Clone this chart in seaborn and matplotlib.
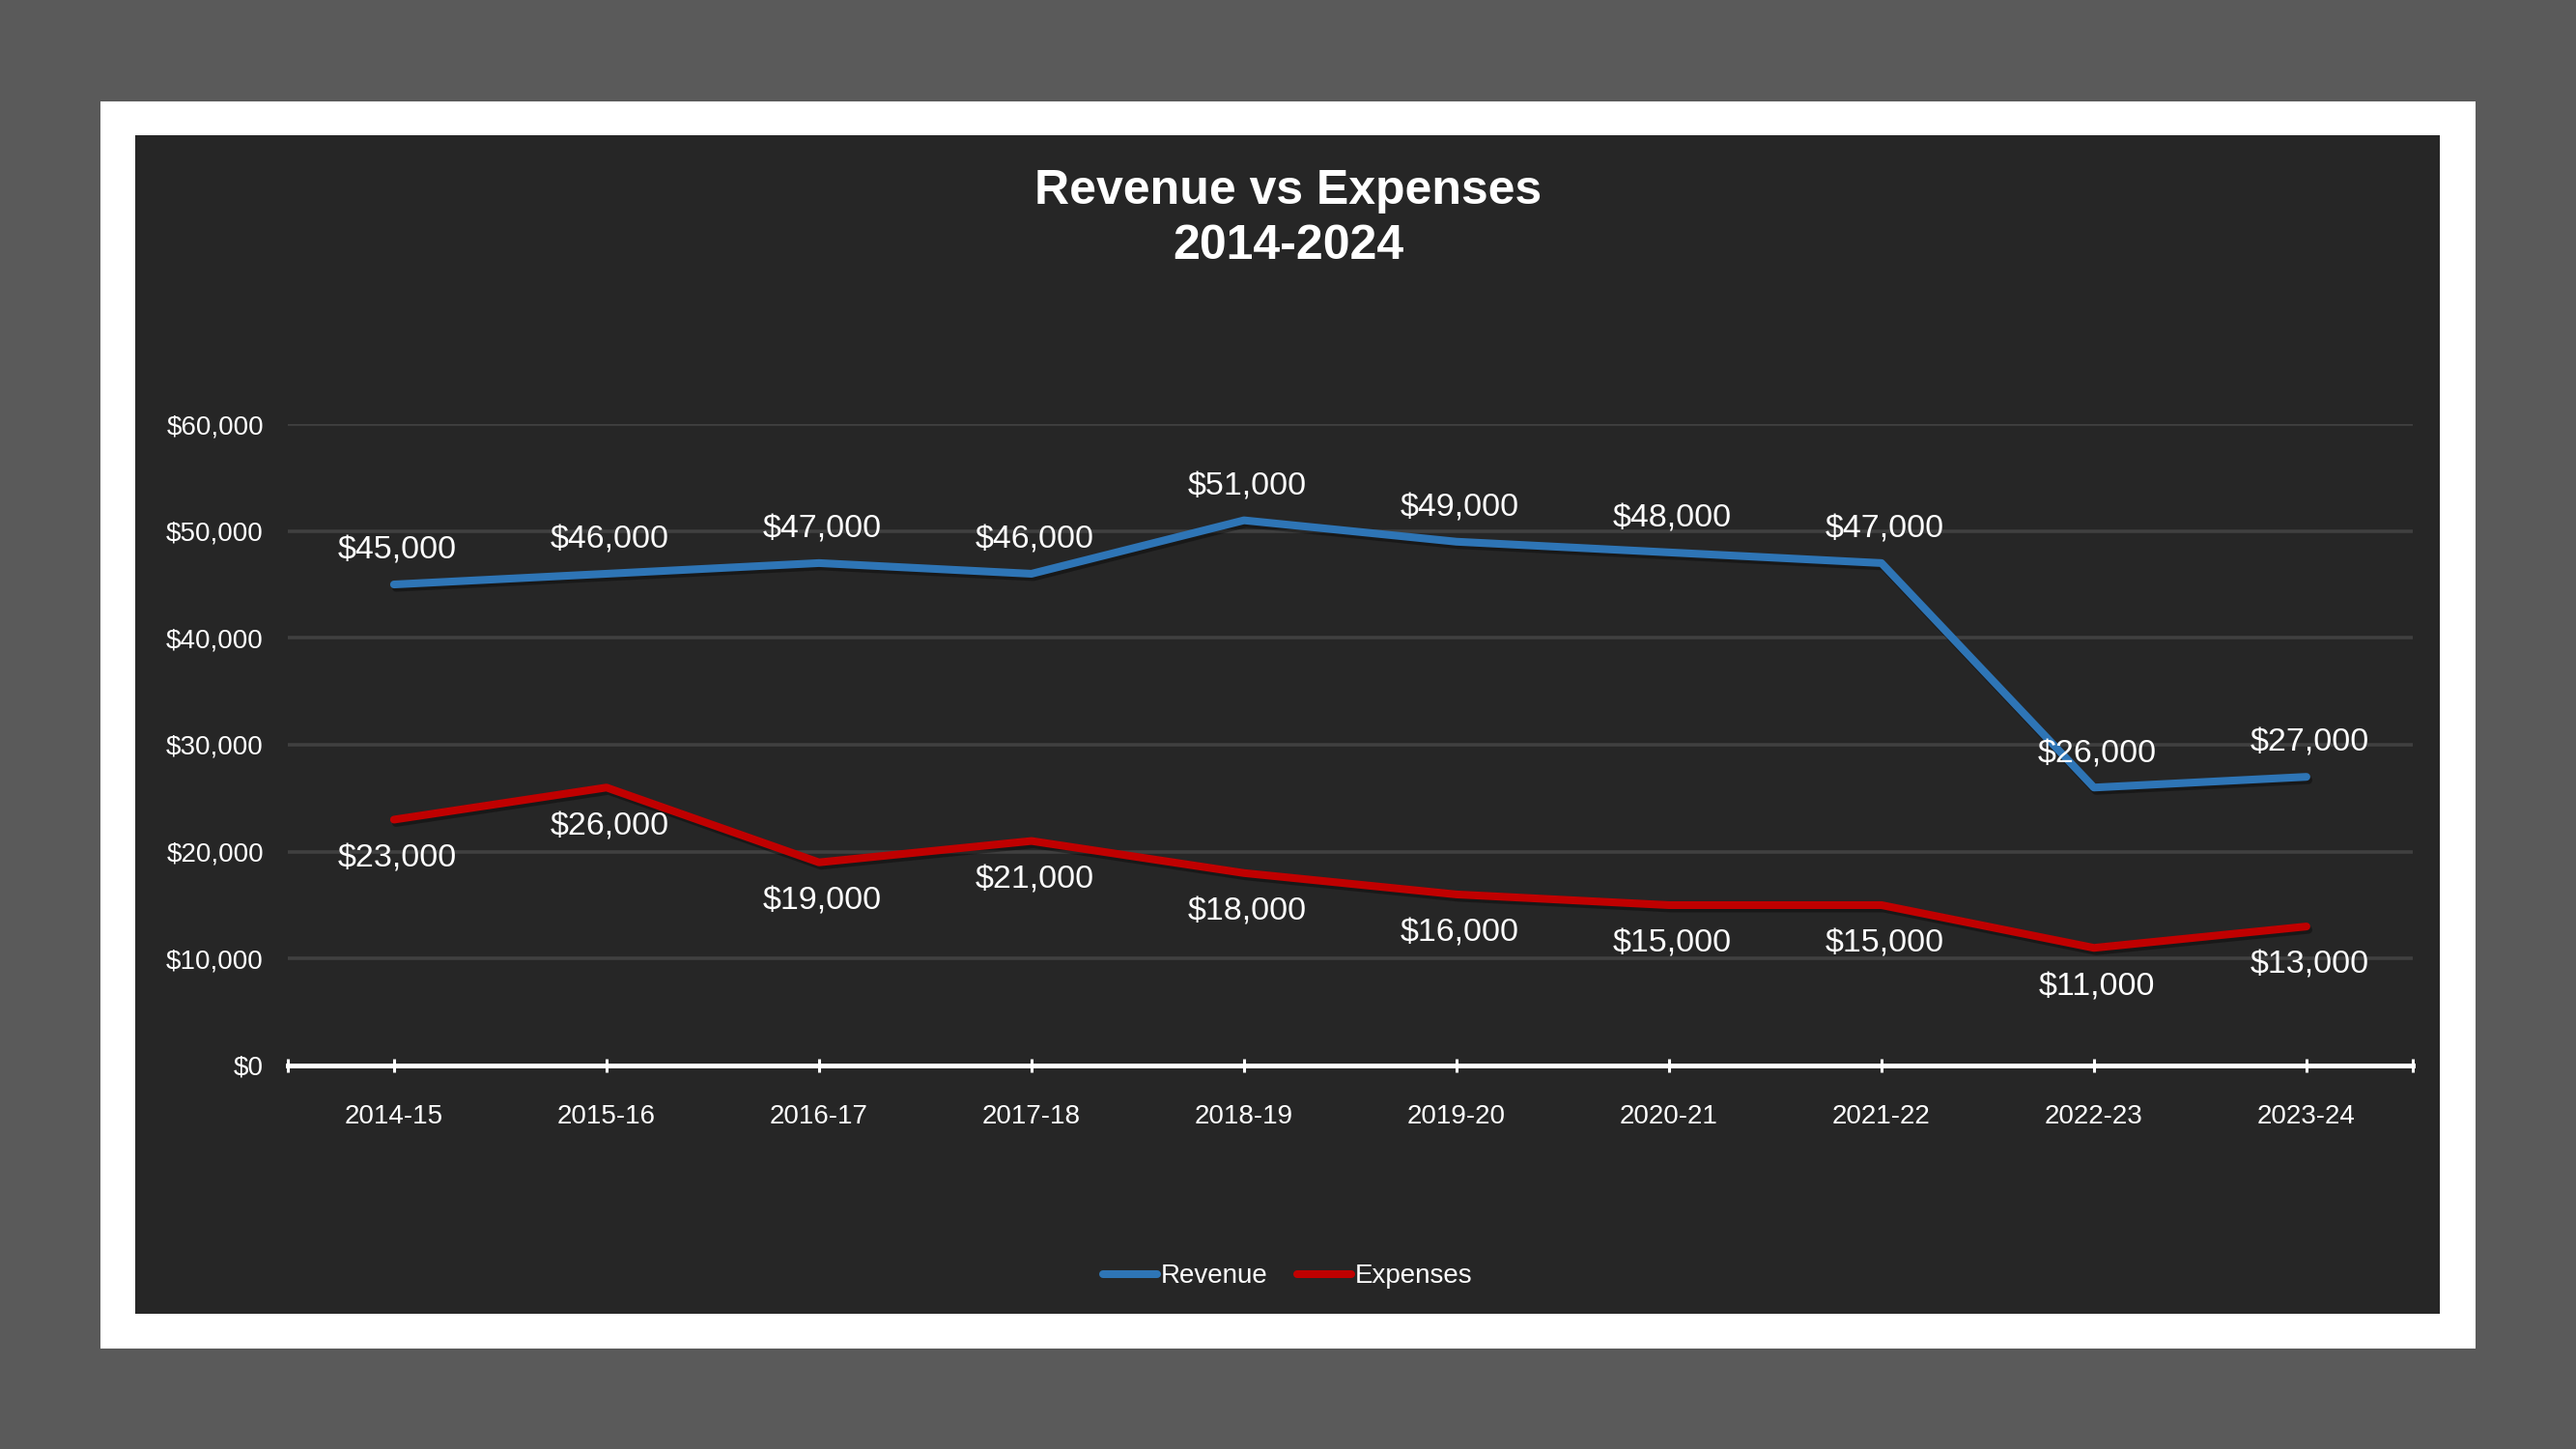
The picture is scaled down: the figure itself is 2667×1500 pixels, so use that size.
import matplotlib
matplotlib.use("Agg")
import matplotlib.pyplot as plt
import matplotlib.patheffects as pe
from matplotlib.patches import Rectangle
import pandas as pd
import seaborn as sns

years = ["2014-15", "2015-16", "2016-17", "2017-18", "2018-19",
         "2019-20", "2020-21", "2021-22", "2022-23", "2023-24"]
revenue = [45000, 46000, 47000, 46000, 51000, 49000, 48000, 47000, 26000, 27000]
expenses = [23000, 26000, 19000, 21000, 18000, 16000, 15000, 15000, 11000, 13000]
yticks = [0, 10000, 20000, 30000, 40000, 50000, 60000]

BG = "#5a5a5a"
PANEL = "#262626"
GRID = "#404040"
colors = {"Revenue": "#2e75b6", "Expenses": "#c00000"}

sns.set_theme(style="dark")
plt.rcParams["font.family"] = ["Liberation Sans", "DejaVu Sans"]

df = pd.DataFrame({
    "year": years * 2,
    "value": revenue + expenses,
    "series": ["Revenue"] * len(years) + ["Expenses"] * len(years),
})

fig = plt.figure(figsize=(26.67, 15), dpi=100)
fig.patch.set_facecolor(BG)

# white frame and dark chart panel, kept behind the axes
fig.patches.append(Rectangle((0.039, 0.0693), 0.922, 0.8607, transform=fig.transFigure,
                             facecolor="white", edgecolor="none", zorder=-2))
fig.patches.append(Rectangle((0.0525, 0.0933), 0.8946, 0.8134, transform=fig.transFigure,
                             facecolor=PANEL, edgecolor="none", zorder=-1))

ax = fig.add_axes([0.1117, 0.2647, 0.8249, 0.4426])
ax.set_facecolor(PANEL)
ax.patch.set_alpha(0)

shadow = [pe.SimpleLineShadow(offset=(1.5, -2.5), shadow_color="black", alpha=0.35),
          pe.Normal()]
sns.lineplot(data=df, x="year", y="value", hue="series", palette=colors,
             linewidth=5.8, sort=False, ax=ax, legend=True)
for ln in ax.get_lines():
    ln.set_solid_capstyle("round")
    ln.set_solid_joinstyle("round")
    ln.set_path_effects(shadow)

# data labels: revenue above, expenses below
for i, v in enumerate(revenue):
    ax.annotate(f"${v:,}", (i, v), xytext=(2.5, 25), textcoords="offset points",
                ha="center", va="center", color="white", fontsize=24.5)
for i, v in enumerate(expenses):
    ax.annotate(f"${v:,}", (i, v), xytext=(2.5, -29), textcoords="offset points",
                ha="center", va="center", color="white", fontsize=24.5)

ax.set_xlim(-0.5, len(years) - 0.5)
ax.set_ylim(0, 60000)
ax.set_yticks(yticks)
ax.set_yticklabels([f"${t:,}" for t in yticks])
ax.yaxis.grid(True, color=GRID, linewidth=2.6)
ax.xaxis.grid(False)
ax.set_axisbelow(True)
for s in ["top", "right", "left"]:
    ax.spines[s].set_visible(False)
ax.spines["bottom"].set_color("white")
ax.spines["bottom"].set_linewidth(3.6)
ax.spines["bottom"].set_zorder(3)

ax.set_xticks(range(len(years)))
ax.set_xticklabels(years)
ax.tick_params(axis="x", colors="white", labelsize=20, direction="inout",
               length=10, width=2.2, pad=24, bottom=True)
ax.tick_params(axis="y", colors="white", labelsize=20, length=0, pad=18)
ax.set_xlabel("")
ax.set_ylabel("")

# minor ticks at both ends of the axis
ax.set_xticks([-0.5, len(years) - 0.5], minor=True)
ax.tick_params(axis="x", which="minor", colors="white", direction="inout",
               length=10, width=2.2, bottom=True)

fig.text(0.5, 0.849, "Revenue vs Expenses\n2014-2024", ha="center", va="center",
         color="white", fontsize=36, fontweight="bold", linespacing=1.3)

handles, labels = ax.get_legend_handles_labels()
ax.legend_.remove()
leg = fig.legend(handles, labels, loc="center", bbox_to_anchor=(0.5, 0.119), ncol=2,
                 frameon=False, fontsize=20, handlelength=2.0, handletextpad=0.15,
                 columnspacing=1.1, labelcolor="white")
for h in leg.get_lines():
    h.set_linewidth(5.8)
    h.set_solid_capstyle("round")
    h.set_path_effects([])

fig.savefig("out.png", dpi=100, facecolor=BG)
